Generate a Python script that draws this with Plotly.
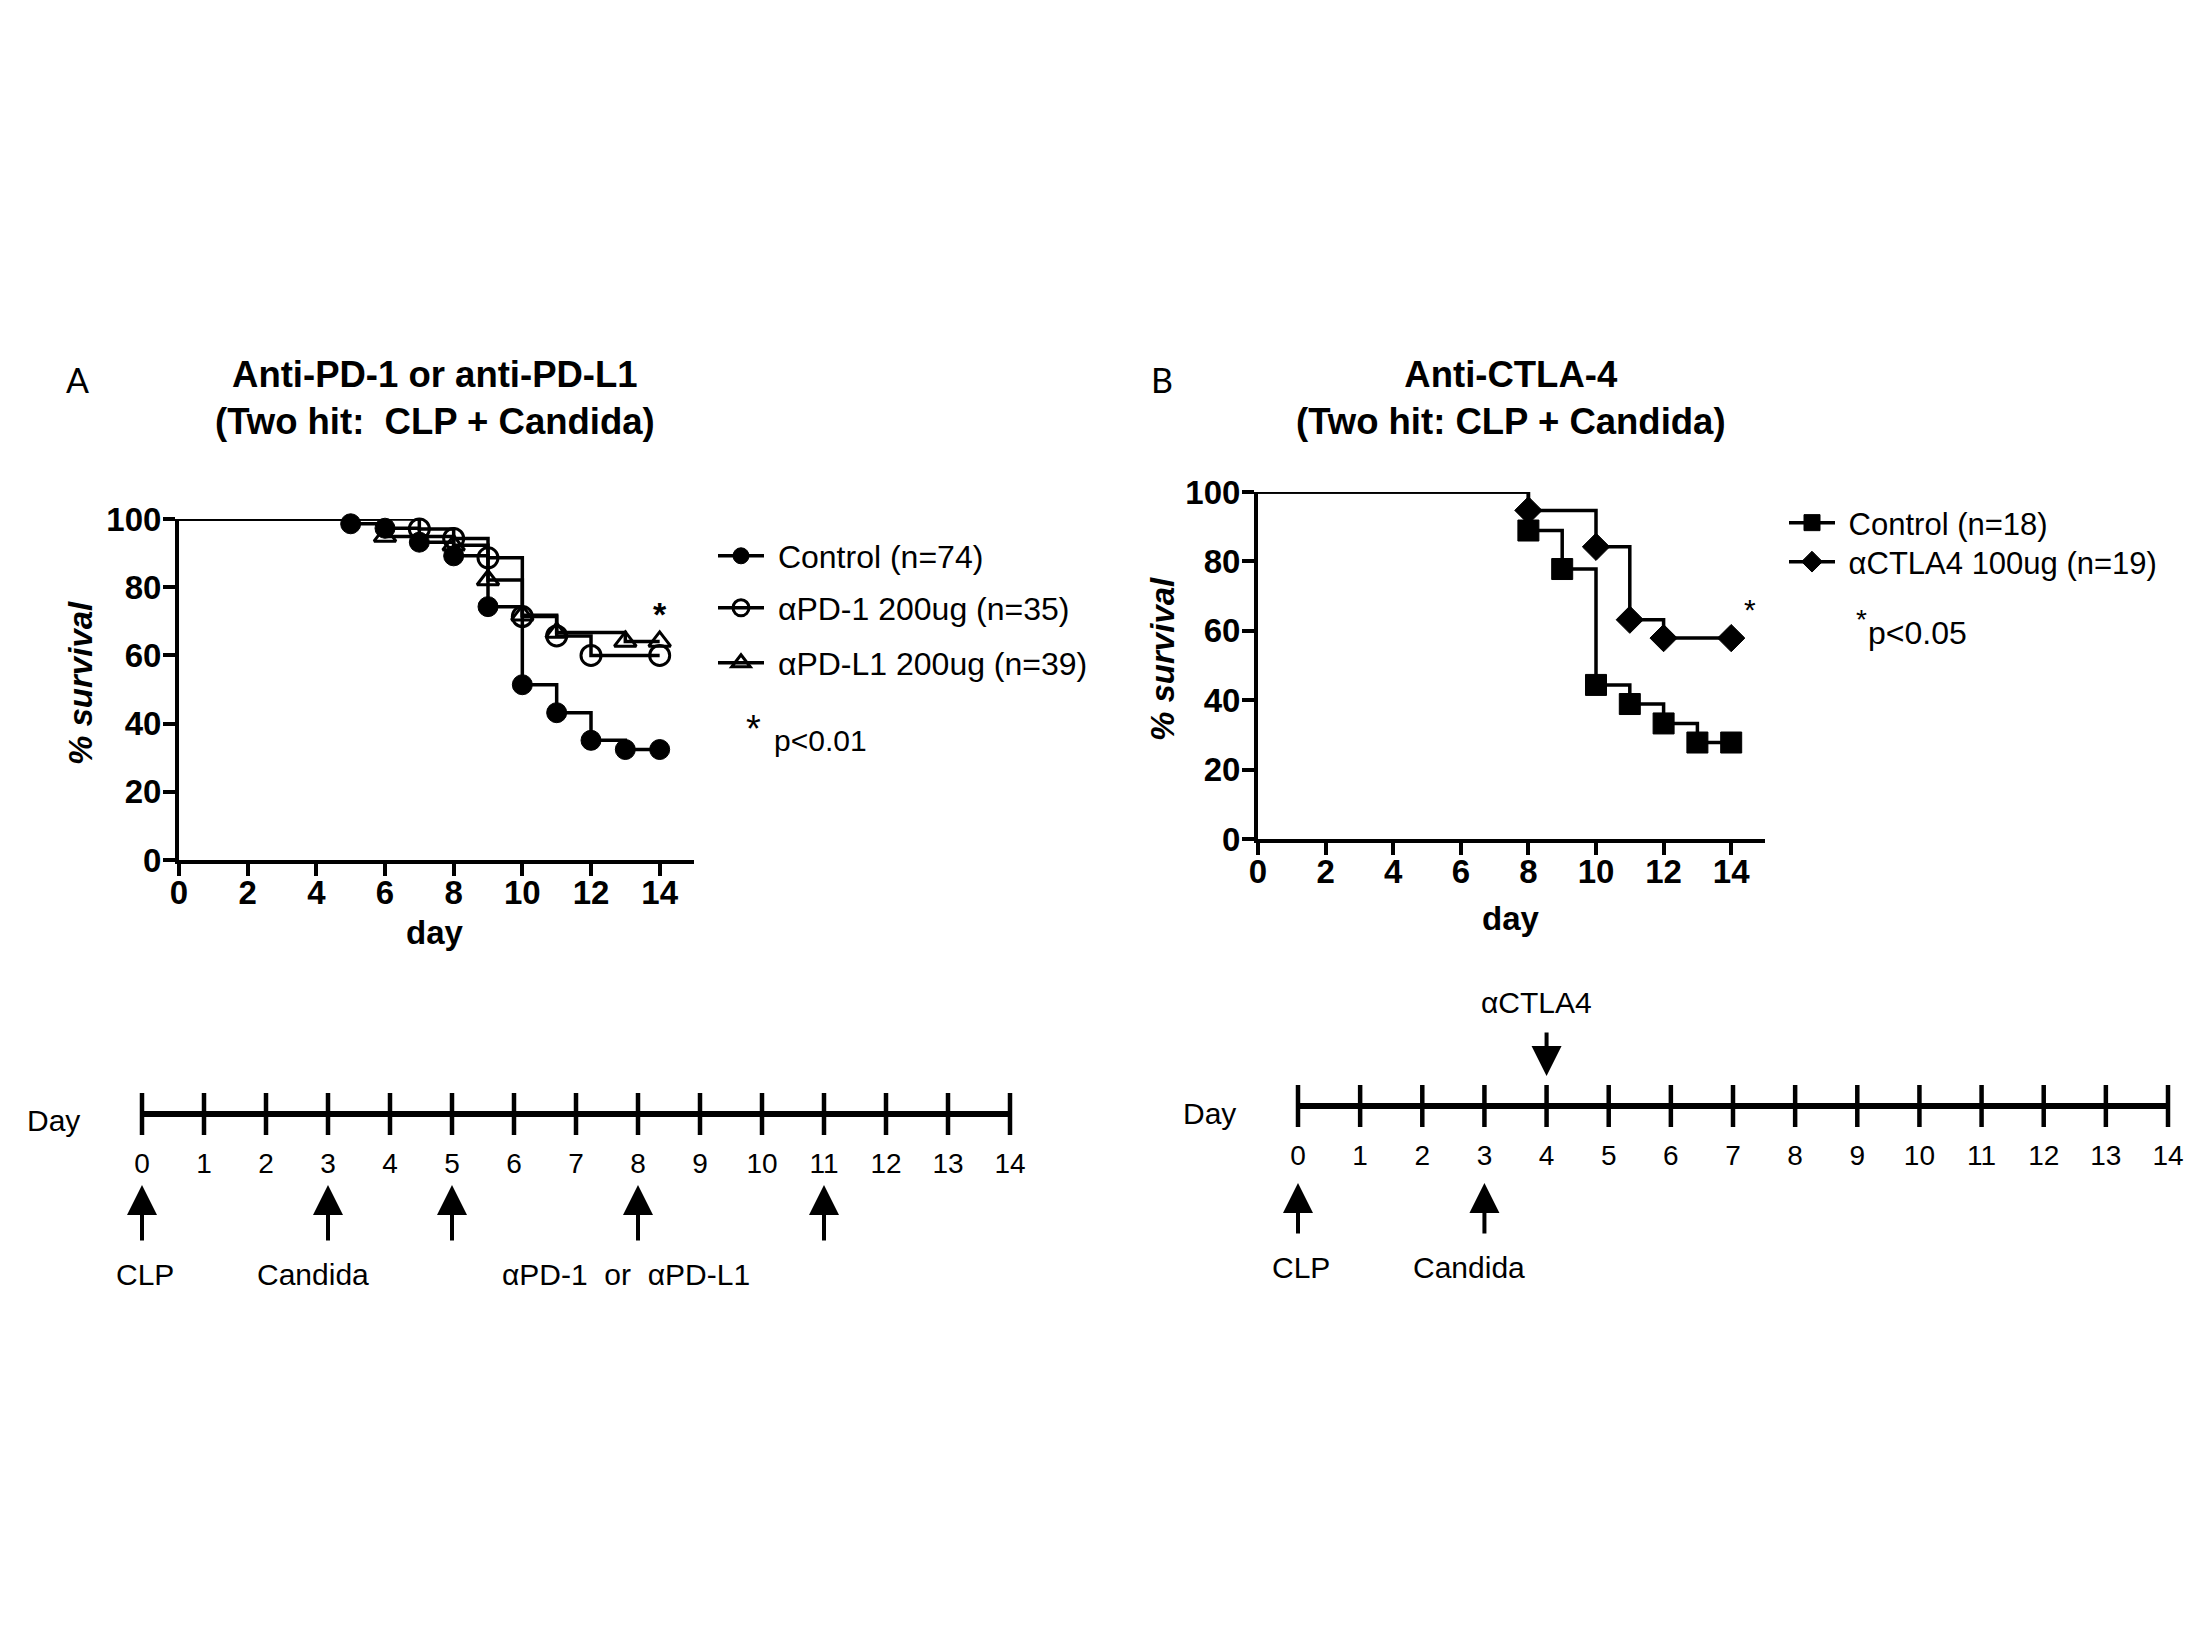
import plotly.graph_objects as go

W, H = 2200, 1650
OFF = 8  # the page body margin shifts the plot; positions below are page pixels

# ---- survival data, panel A (% survival by day) ----
ctrl_a_day = [0, 5, 6, 7, 8, 9, 10, 11, 12, 13, 14]
ctrl_a_surv = [100, 98.6, 97.3, 93.2, 89.2, 74.3, 51.4, 43.2, 35.1, 32.4, 32.4]
pd1_day = [0, 7, 8, 9, 10, 11, 12, 14]
pd1_surv = [100, 97.1, 94.3, 88.6, 71.4, 65.7, 60.0, 60.0]
pdl1_day = [0, 6, 8, 9, 10, 11, 13, 14]
pdl1_surv = [100, 94.9, 92.3, 82.1, 71.8, 66.7, 64.1, 64.1]

# ---- survival data, panel B ----
ctrl_b_day = [0, 8, 9, 10, 11, 12, 13, 14]
ctrl_b_surv = [100, 88.9, 77.8, 44.4, 38.9, 33.3, 27.8, 27.8]
ctla4_day = [0, 8, 10, 11, 12, 14]
ctla4_surv = [100, 94.7, 84.2, 63.2, 57.9, 57.9]

# ---- timelines ----
days = [0, 1, 2, 3, 4, 5, 6, 7, 8, 9, 10, 11, 12, 13, 14]
arrows_a_up = [0, 3, 5, 8, 11]
labels_a = ["CLP", "Candida", "\u03b1PD-1  or  \u03b1PD-L1"]
labels_a_day = [0.05, 2.75, 7.8]
arrows_b_up = [0, 3]
arrows_b_down = [4]
labels_b = ["CLP", "Candida"]
labels_b_day = [0.05, 2.75]

FONT = "Liberation Sans, Arial, sans-serif"


def px(x):
    return (x - OFF) / W


def py(y):
    return 1 - (y - OFF) / H


def km_trace(x, y, name, symbol, size, leg, open_=False, xa="x", ya="y"):
    sizes = [0] + [size] * (len(x) - 1)
    return go.Scatter(
        x=x, y=y, name=" " + name, mode="lines+markers",
        line=dict(shape="hv", color="black", width=3.5),
        marker=dict(symbol=symbol, size=sizes, color="black", opacity=1,
                    line=dict(width=3 if open_ else 1, color="black")),
        xaxis=xa, yaxis=ya, legend=leg, cliponaxis=False,
    )


fig = go.Figure()
fig.add_trace(km_trace(ctrl_a_day, ctrl_a_surv, "Control (n=74)", "circle", 20, "legend"))
fig.add_trace(km_trace(pd1_day, pd1_surv, "\u03b1PD-1 200ug (n=35)", "circle-open", 20,
                       "legend2", True))
fig.add_trace(km_trace(pdl1_day, pdl1_surv, "\u03b1PD-L1 200ug (n=39)", "triangle-up-open",
                       19, "legend3", True))
fig.add_trace(km_trace(ctrl_b_day, ctrl_b_surv, "Control (n=18)", "square", 21, "legend4",
                       xa="x2", ya="y2"))
fig.add_trace(km_trace(ctla4_day, ctla4_surv, "\u03b1CTLA4 100ug (n=19)", "diamond", 21,
                       "legend5", xa="x2", ya="y2"))

# timelines
for xa, ya in [("x3", "y3"), ("x4", "y4")]:
    fig.add_trace(go.Scatter(x=[days[0], days[-1]], y=[0, 0], mode="lines",
                             line=dict(color="black", width=6), xaxis=xa, yaxis=ya,
                             showlegend=False, cliponaxis=False, hoverinfo="skip"))
    fig.add_trace(go.Scatter(x=days, y=[0] * len(days), mode="markers",
                             marker=dict(symbol="line-ns", size=30,
                                         line=dict(width=4.5, color="black")),
                             xaxis=xa, yaxis=ya, showlegend=False, cliponaxis=False,
                             hoverinfo="skip"))

surv_axis = dict(range=[0, 15], tickvals=[0, 2, 4, 6, 8, 10, 12, 14], showline=True,
                 linewidth=4, linecolor="black", ticks="outside", ticklen=12,
                 tickwidth=4, tickcolor="black", showgrid=False, zeroline=False,
                 ticklabelstandoff=-12,
                 tickfont=dict(family=FONT, size=33, color="black", weight="bold"))
surv_yaxis = dict(surv_axis, range=[0, 100], tickvals=[0, 20, 40, 60, 80, 100],
                  ticklabelstandoff=-5)

tl_axis = dict(range=[0, 14], tickvals=days, ticks="", showline=False, showgrid=False,
               zeroline=False, tickfont=dict(family=FONT, size=28, color="black"),
               ticklabelstandoff=10)
tl_yaxis = dict(range=[-1, 1], visible=False)


def leg(x, y, size):
    return dict(x=px(x), y=py(y), xanchor="left", yanchor="middle", itemwidth=46,
                font=dict(family=FONT, size=size, color="black"),
                bgcolor="rgba(0,0,0,0)", borderwidth=0)


fig.update_layout(
    width=W, height=H, margin=dict(l=0, r=0, t=0, b=0, pad=0, autoexpand=False),
    paper_bgcolor="white", plot_bgcolor="white",
    font=dict(family=FONT, color="black"),
    xaxis=dict(surv_axis, domain=[px(179), px(694)], anchor="y"),
    yaxis=dict(surv_yaxis, domain=[py(860), py(519)], anchor="x"),
    xaxis2=dict(surv_axis, domain=[px(1258), px(1765)], anchor="y2"),
    yaxis2=dict(surv_yaxis, domain=[py(839), py(492)], anchor="x2"),
    xaxis3=dict(tl_axis, domain=[px(142), px(1010)], anchor="y3"),
    yaxis3=dict(tl_yaxis, domain=[py(1134), py(1094)], anchor="x3"),
    xaxis4=dict(tl_axis, domain=[px(1298), px(2168)], anchor="y4"),
    yaxis4=dict(tl_yaxis, domain=[py(1126), py(1086)], anchor="x4"),
    legend=leg(713, 556, 32),
    legend2=leg(713, 608, 32),
    legend3=leg(713, 663, 32),
    legend4=leg(1784, 523, 31),
    legend5=leg(1784, 562, 31),
)

ann = []


def text(x, y, s, size, bold=False, italic=False, angle=0, xref="paper", yref="paper",
         xanchor="center", family=FONT):
    ann.append(dict(x=x, y=y, xref=xref, yref=yref, text=s, showarrow=False,
                    xanchor=xanchor, yanchor="middle", textangle=angle,
                    font=dict(family=family, size=size, color="black",
                              weight="bold" if bold else "normal",
                              style="italic" if italic else "normal")))


# panel letters and titles
text(px(77), py(379), "A", 34, family="Lato, Open Sans, sans-serif")
text(px(1162), py(379), "B", 34, family="Lato, Open Sans, sans-serif")
text(px(435), py(398), "Anti-PD-1 or anti-PD-L1<br>(Two hit:  CLP + Candida)", 36.5, bold=True)
text(px(1511), py(398), "Anti-CTLA-4<br>(Two hit: CLP + Candida)", 36.5, bold=True)

# axis titles
text(px(435), py(933), "day", 33, bold=True)
text(px(1511), py(918), "day", 33, bold=True)
text(px(80), py(683), "% survival", 33, bold=True, italic=True, angle=-90)
text(px(1162), py(659), "% survival", 33, bold=True, italic=True, angle=-90)

# significance marks
text(14, 72, "*", 34, bold=True, xref="x", yref="y")
text(px(753), py(729), "*", 38)
text(px(772), py(740), "p&lt;0.01", 30, xanchor="left")
text(14.55, 66, "*", 30, xref="x2", yref="y2")
text(px(1861), py(620), "*", 28)
text(px(1866), py(633), "p&lt;0.05", 32, xanchor="left")

# timeline labels
text(px(53), py(1120), "Day", 30)
text(px(1209), py(1113), "Day", 30)
for s, d in zip(labels_a, labels_a_day):
    text(d, py(1274), s, 30, xref="x3")
for s, d in zip(labels_b, labels_b_day):
    text(d, py(1267), s, 30, xref="x4")
text(3.83, py(1002), "\u03b1CTLA4", 30, xref="x4")


def arrow(d, xref, head_y, tail_dy):
    ann.append(dict(x=d, y=head_y, xref=xref, yref="paper", text="", showarrow=True,
                    ax=0, ay=tail_dy, arrowhead=2, arrowsize=1.5, arrowwidth=4,
                    arrowcolor="black"))


for d in arrows_a_up:
    arrow(d, "x3", py(1185), 57)
for d in arrows_b_up:
    arrow(d, "x4", py(1183), 52)
for d in arrows_b_down:
    arrow(d, "x4", py(1076), -45)

fig.update_layout(annotations=ann)
fig.write_html("out.html")
